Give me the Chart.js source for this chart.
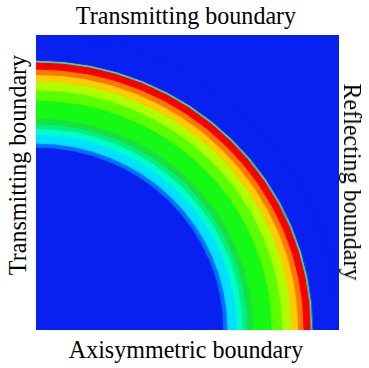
<!DOCTYPE html>
<html>
<head>
<meta charset="utf-8">
<script src="https://cdn.jsdelivr.net/npm/chart.js@4"></script>
<style>
  html, body { margin: 0; padding: 0; background: #fff; }
  body { width: 369px; height: 368px; position: relative; overflow: hidden; }
  #plot { position: absolute; left: 36px; top: 35px; width: 303px; height: 295px; background: #0820f0; overflow: hidden; }
  #inner { position: absolute; left: 0; top: 0; width: 295px; height: 295px; transform-origin: 0 0; transform: scaleX(1.0271); }
  .lbl { position: absolute; width: 300px; height: 26px; line-height: 26px; font-size: 26px;
         font-family: "Liberation Serif", "Times New Roman", serif; color: #000; text-align: center; white-space: nowrap; }
</style>
</head>
<body>
<div id="plot"><div id="inner"><canvas id="chart" width="295" height="295"></canvas></div></div>
<div class="lbl" id="top"></div>
<div class="lbl" id="bottom"></div>
<div class="lbl" id="left"></div>
<div class="lbl" id="right"></div>
<script>
// band boundaries, radius as fraction of the domain size (origin at lower left corner)
const bandEdges = [0.620, 0.634, 0.664, 0.684, 0.700, 0.718, 0.780, 0.815, 0.845, 0.868, 0.886, 0.910, 0.916];
// contour colour of each band, inside -> outside
const bandColors = ['#0070ff', '#00e0ff', '#00ffc8', '#00f080', '#18e040', '#14fa14', '#5cff00', '#b0ff00', '#ffcc00', '#ff7800', '#f80000', '#40e0a0'];
const fieldColor = '#0820f0';

const topLabel = 'Transmitting boundary';
const bottomLabel = 'Axisymmetric boundary';
const leftLabel = 'Transmitting boundary';
const rightLabel = 'Reflecting boundary';

onload = () => {
    // doughnut rings: first dataset is the outermost ring
    let rings = [];
    rings.push({ data: [1], backgroundColor: fieldColor, borderColor: fieldColor, weight: 1 - bandEdges[bandEdges.length - 1] });
    for (let i = bandColors.length - 1; i >= 0; i--) {
        rings.push({
            data: [1],
            backgroundColor: bandColors[i],
            borderColor: bandColors[i],
            weight: bandEdges[i + 1] - bandEdges[i]
        });
    }
    rings.forEach(r => { r.borderWidth = 1; r.offset = 0; r.hoverOffset = 0; });

    var ctx = document.getElementById('chart').getContext('2d');
    new Chart(ctx, {
        type: 'doughnut',
        data: { labels: ['field'], datasets: rings },
        options: {
            responsive: false,
            animation: false,
            events: [],
            rotation: 0,
            circumference: 90,
            cutout: (bandEdges[0] * 100) + '%',
            layout: { padding: 0 },
            plugins: { legend: { display: false }, tooltip: { enabled: false } }
        }
    });

    // boundary names round the domain
    const place = (id, text, cx, cy, tf) => {
        let el = document.getElementById(id);
        el.innerText = text;
        el.style.left = (cx - 150) + 'px';
        el.style.top = (cy - 13) + 'px';
        el.style.transform = tf;
    };
    place('top', topLabel, 186, 16.2, 'scaleX(0.925)');
    place('bottom', bottomLabel, 185.5, 349.7, 'scaleX(0.925)');
    place('left', leftLabel, 18.2, 165, 'rotate(-90deg) scaleX(0.925)');
    place('right', rightLabel, 351.8, 181.5, 'rotate(90deg) scaleX(0.925)');
}
</script>
</body>
</html>
